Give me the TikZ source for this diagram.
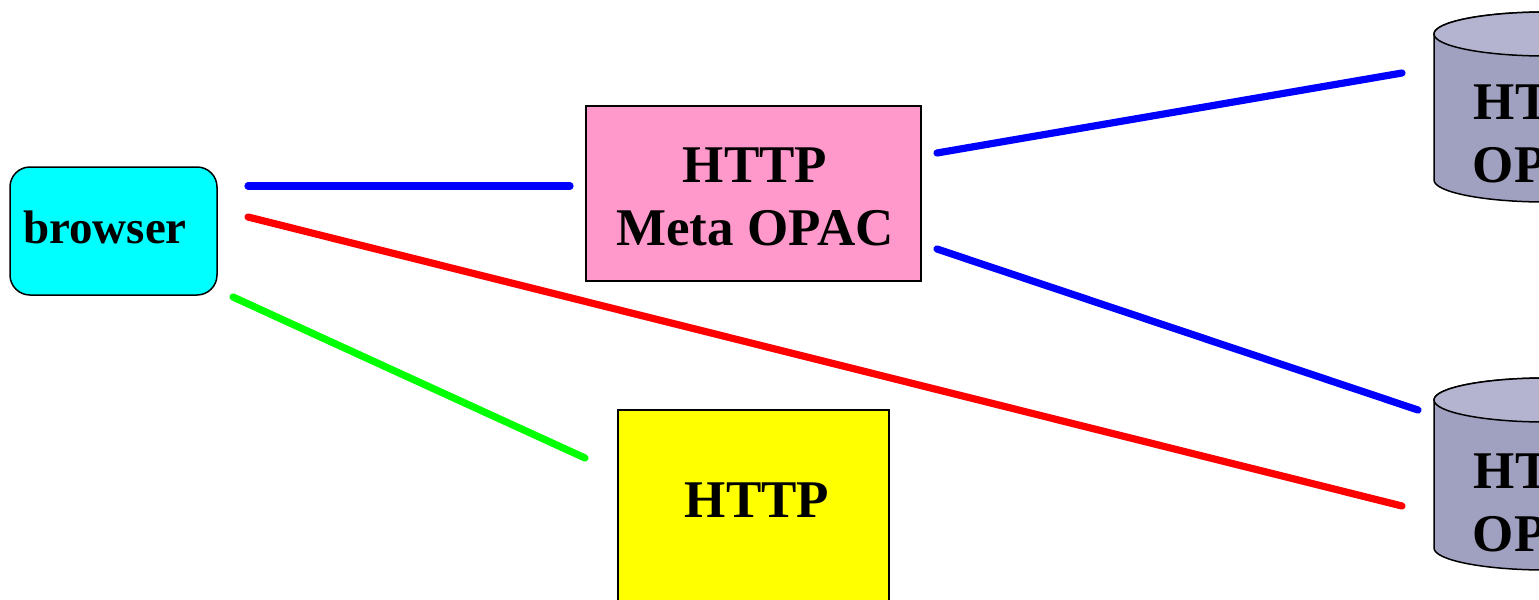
\documentclass[tikz,border=0pt]{standalone}
\usepackage{fontspec}
\setmainfont{Liberation Serif}
\definecolor{browsercyan}{RGB}{0,255,255}
\definecolor{metapink}{RGB}{255,153,204}
\definecolor{plainyellow}{RGB}{255,255,0}
\definecolor{dbbody}{RGB}{160,160,192}
\definecolor{dbtop}{RGB}{180,180,208}
\definecolor{linkblue}{RGB}{0,0,255}
\definecolor{linkred}{RGB}{255,0,0}
\definecolor{linkgreen}{RGB}{0,255,0}
\tikzset{
  boxline/.style={draw=black, line width=0.75pt},
  label26/.style={font=\fontsize{26.5}{31.5}\selectfont\bfseries, align=center, inner sep=0pt},
  label23/.style={font=\fontsize{23.5}{28}\selectfont\bfseries, inner sep=0pt},
  link/.style={line width=3.6pt, line cap=round},
}
\begin{document}
\begin{tikzpicture}[x=0.5pt, y=0.5pt]
  \useasboundingbox (0,0) rectangle (1539,-600);
  \clip (0,0) rectangle (1539,-600);

  % browser
  \node[boxline, fill=browsercyan, rounded corners=10pt, minimum width=103.5pt,
        minimum height=64pt, inner sep=0pt] (browser) at (113.5,-231) {};
  \node[label23] (browsertext) at (105,-227) {browser};

  % meta OPAC gateway
  \node[boxline, fill=metapink, minimum width=167.5pt, minimum height=87.5pt,
        inner sep=0pt] (meta) at (753.5,-193.5) {};
  \node[label26] (metatext) at (755,-197) {HTTP\\Meta OPAC};

  % plain HTTP server
  \node[boxline, fill=plainyellow, minimum width=135.5pt, minimum height=105pt,
        inner sep=0pt] (plain) at (753.5,-515) {};
  \node[label26] (plaintext) at (757,-500) {HTTP};

  % database cylinders
  \foreach \name/\top/\bot/\ty in {dbone/34/180/134, dbtwo/400/548/503} {
    \path[boxline, fill=dbbody] (1434,-\top) -- (1434,-\bot)
      arc[start angle=180, end angle=360, x radius=56pt, y radius=11pt]
      -- (1658,-\top)
      arc[start angle=0, end angle=180, x radius=56pt, y radius=11pt] -- cycle;
    \path[boxline, fill=dbtop] (1546,-\top) ellipse[x radius=56pt, y radius=11pt];
    \node[label26] (\name) at (1546,-\ty) {HTTP\\OPAC};
  }

  % connector end points
  \coordinate (b1) at (248,-186);
  \coordinate (b2) at (248,-217);
  \coordinate (b3) at (233,-297);
  \coordinate (m0) at (570,-186);
  \coordinate (m1) at (937,-153);
  \coordinate (m2) at (937,-249);
  \coordinate (d1) at (1402,-73);
  \coordinate (d2) at (1418,-410);
  \coordinate (d3) at (1402,-506);
  \coordinate (p1) at (585,-458);

  \draw[link, linkblue] (b1) -- (m0);
  \draw[link, linkblue] (m1) -- (d1);
  \draw[link, linkblue] (m2) -- (d2);
  \draw[link, linkred] (b2) -- (d3);
  \draw[link, linkgreen] (b3) -- (p1);
\end{tikzpicture}
\end{document}
